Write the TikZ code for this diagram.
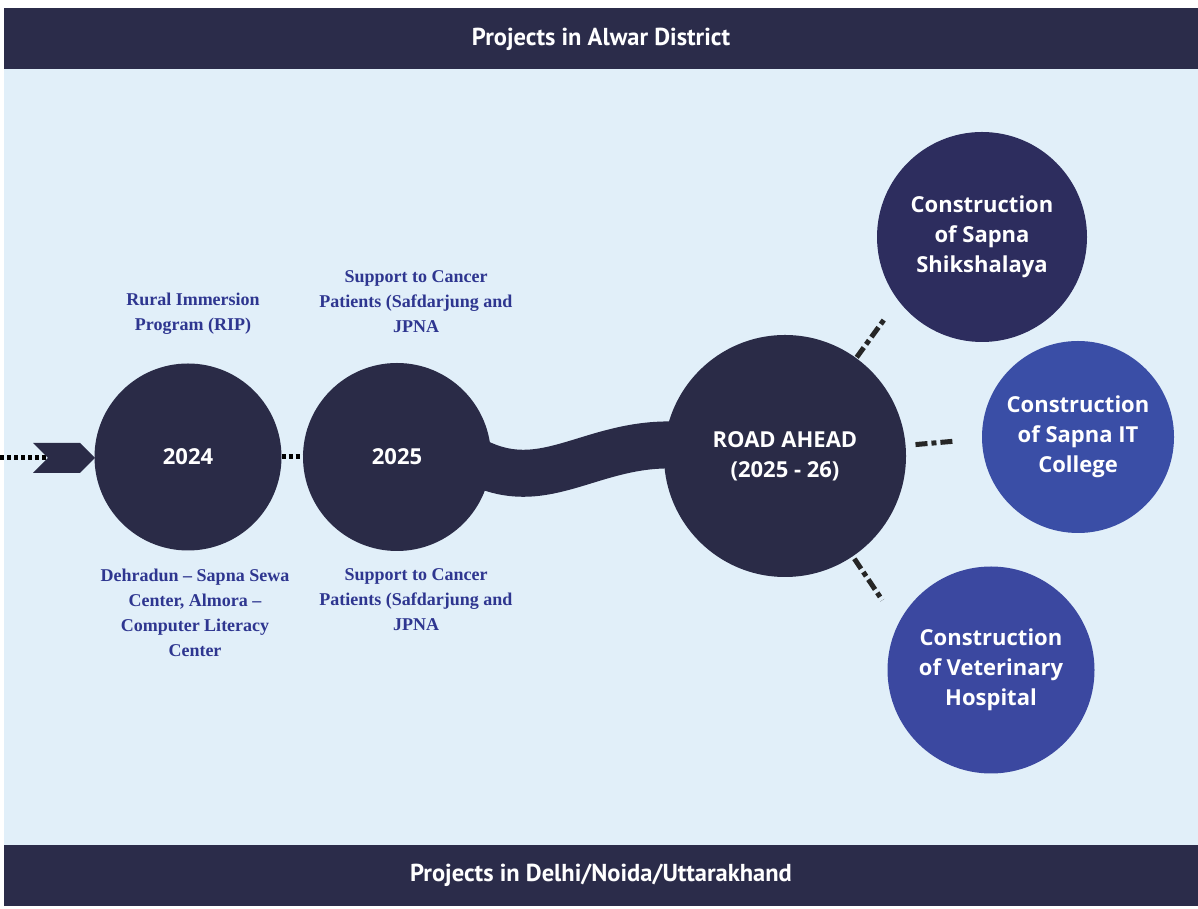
\documentclass[tikz,border=0pt]{standalone}
\usepackage{fontspec}
\usetikzlibrary{shapes.symbols,calc}
\newfontfamily\labfont{Liberation Serif}
\newfontfamily\cfont{Open Sans}
\newfontfamily\barfont{PT Sans}
\definecolor{navy}{HTML}{2A2B47}
\definecolor{shikc}{HTML}{2D2D5E}
\definecolor{itcc}{HTML}{3A4EA6}
\definecolor{vetc}{HTML}{3B48A0}
\definecolor{bgc}{HTML}{E1EFF9}
\definecolor{barc}{HTML}{2B2C4A}
\definecolor{labblue}{HTML}{2E3690}
\pgfdeclarelayer{back}
\pgfdeclarelayer{mid}
\pgfsetlayers{back,mid,main}
\tikzset{
  x=1pt,y=1pt,
  bubble/.style={circle,fill=#1,draw=none,inner sep=0pt,text=white,align=center,
    font=\cfont\bfseries\fontsize{22}{30}\selectfont},
  lab/.style={text=labblue,align=center,font=\labfont\bfseries\fontsize{18}{25}\selectfont},
  bartext/.style={text=white,font=\barfont\bfseries\fontsize{24.5}{28}\selectfont},
  dotline/.style={draw=black,line width=5pt,dash pattern=on 4pt off 3pt},
  dashline/.style={draw=black!85,line width=5pt,dash pattern=on 12pt off 4pt on 5pt off 4pt},
  roadband/.style={draw=navy,line width=47pt}
}
\begin{document}
\begin{tikzpicture}
\useasboundingbox (0,0) rectangle (1198,909);
\begin{pgfonlayer}{back}
\fill[white] (0,0) rectangle (1198,909);
\fill[bgc] (4,3) rectangle (1198,901);
\fill[barc] (4,840) rectangle (1198,901);
\fill[barc] (4,3) rectangle (1198,64);
\end{pgfonlayer}
\node[bartext] (toptitle) at (601,870) {Projects in Alwar District};
\node[bartext] (bottitle) at (601,34) {Projects in Delhi/Noida/Uttarakhand};
% left dotted line and chevron
\coordinate (start) at (0,451);
\node[signal,signal from=west,signal to=east,fill=navy,draw=none,
  minimum width=62pt,minimum height=30pt,inner sep=0pt] (chev) at (64,451) {};
\begin{pgfonlayer}{mid}
\draw[dotline] (start) -- (chev.west);
\end{pgfonlayer}
% circles
\node[bubble=navy,minimum size=187pt] (c2024) at (188,452) {2024};
\node[bubble=navy,minimum size=188pt] (c2025) at (397,452) {2025};
\begin{pgfonlayer}{mid}
\draw[dotline] (c2024.east) -- (c2025.west);
\end{pgfonlayer}
\node[bubble=navy,minimum size=242pt] (road) at (785,453) {ROAD AHEAD\\(2025 - 26)};
\begin{pgfonlayer}{mid}
\draw[roadband] ([xshift=-20pt,yshift=-2pt]c2025.east) .. controls +(75,-42) and +(-95,10) .. ([xshift=25pt,yshift=10pt]road.west);
\end{pgfonlayer}
\node[bubble=shikc,minimum size=210pt] (shik) at (982,672) {Construction\\of Sapna\\Shikshalaya};
\node[bubble=itcc,minimum size=192pt] (itc) at (1078,472) {Construction\\of Sapna IT\\College};
\node[bubble=vetc,minimum size=207pt] (vet) at (991,239) {Construction\\of Veterinary\\Hospital};
% dashed stubs
\draw[dashline] ($(road.center)+(54:122)$) -- ($(road.center)+(54:170)$);
\draw[dashline] ($(road.center)+(5:131)$) -- ($(road.center)+(5:170)$);
\draw[dashline] ($(road.center)+(-56:124)$) -- ($(road.center)+(-56:174)$);
% labels
\node[lab] (l1) at (193,595) {Rural Immersion\\Program (RIP)};
\node[lab] (l2) at (416,607) {Support to Cancer\\Patients (Safdarjung and\\JPNA};
\node[lab] (l3) at (195,296) {Dehradun – Sapna Sewa\\Center, Almora –\\Computer Literacy\\Center};
\node[lab] (l4) at (416,309) {Support to Cancer\\Patients (Safdarjung and\\JPNA};
\end{tikzpicture}
\end{document}
